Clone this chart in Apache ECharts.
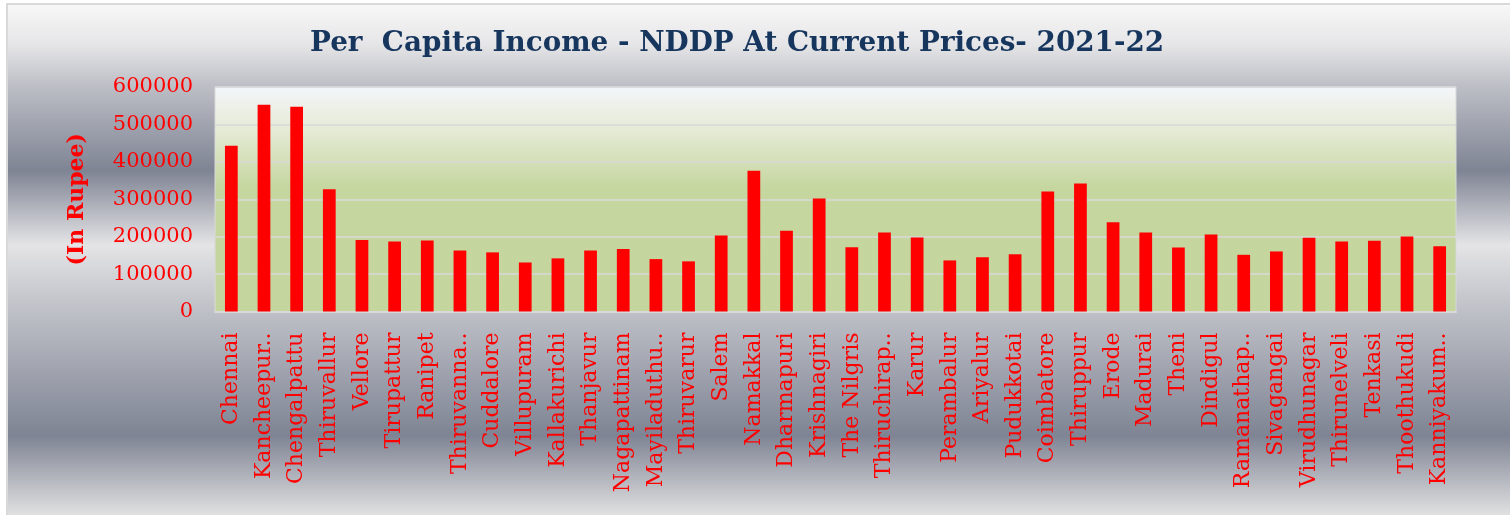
<!DOCTYPE html>
<html>
<head>
<meta charset="utf-8">
<script src="https://cdn.jsdelivr.net/npm/echarts@6/dist/echarts.min.js"></script>
<style>
html,body{margin:0;padding:0;background:#ffffff;}
#main{width:1510px;height:515px;}
</style>
</head>
<body>
<div id="main"></div>
<script>
const titleText = 'Per  Capita Income - NDDP At Current Prices- 2021-22';
const yAxisTitle = '(In Rupee)';
const districts = ['Chennai','Kancheepur..','Chengalpattu','Thiruvallur','Vellore','Tirupattur','Ranipet','Thiruvanna..','Cuddalore','Villupuram','Kallakurichi','Thanjavur','Nagapattinam','Mayiladuthu..','Thiruvarur','Salem','Namakkal','Dharmapuri','Krishnagiri','The Nilgris','Thiruchirap..','Karur','Perambalur','Ariyalur','Pudukkotai','Coimbatore','Thiruppur','Erode','Madurai','Theni','Dindigul','Ramanathap..','Sivagangai','Virudhunagar','Thirunelveli','Tenkasi','Thoothukudi','Kanniyakum..'];
const perCapitaIncome = [443000,552500,547000,327000,191000,187000,190000,163000,158000,131000,142000,163000,167000,140000,134000,203000,376500,215500,302000,172000,211000,198000,136500,145000,153000,320500,342000,238700,211000,171000,206000,151500,160500,197000,187000,189000,200500,174500];
const yTicks = {min:0, max:600000, interval:100000};

const chart = echarts.init(document.getElementById('main'), null, {renderer:'canvas'});
const serif = 'DejaVu Serif';
chart.setOption({
  animation:false,
  graphic:[{
    type:'rect', z:-10, silent:true,
    shape:{x:7,y:4,width:1510,height:513},
    style:{
      fill:new echarts.graphic.LinearGradient(0,0,0,1,[
        {offset:0,color:'#f8f8f8'},
        {offset:0.08,color:'#e6e6e8'},
        {offset:0.16,color:'#bdbfc6'},
        {offset:0.325,color:'#7f8494'},
        {offset:0.47,color:'#e4e4e6'},
        {offset:0.58,color:'#c3c5cb'},
        {offset:0.84,color:'#7f8494'},
        {offset:1,color:'#e4e4e4'}
      ]),
      stroke:'#d9d9d9', lineWidth:2
    }
  }],
  title:{
    text:titleText, left:305, top:25,
    textStyle:{fontFamily:serif,fontWeight:'bold',fontSize:27.8,color:'#17365d'}
  },
  grid:{
    left:215, right:54, top:87, bottom:203.5, containLabel:false,
    show:true, borderColor:'#d9d9d9', borderWidth:1,
    backgroundColor:new echarts.graphic.LinearGradient(0,0,0,1,[
      {offset:0,color:'#f3f6fa'},
      {offset:0.2,color:'#e4eaD4'},
      {offset:0.45,color:'#c5d69f'},
      {offset:1,color:'#c4d59e'}
    ])
  },
  xAxis:{
    type:'category', data:districts,
    axisTick:{show:false},
    axisLine:{show:true,lineStyle:{color:'#d9d9d9',width:2}},
    axisLabel:{interval:0,rotate:90,margin:21,color:'#ff0000',fontFamily:serif,fontSize:22}
  },
  yAxis:{
    type:'value', min:yTicks.min, max:yTicks.max, interval:yTicks.interval,
    name:yAxisTitle, nameLocation:'middle', nameRotate:90, nameGap:127,
    nameTextStyle:{color:'#ff0000',fontFamily:serif,fontWeight:'bold',fontSize:22},
    axisLine:{show:false}, axisTick:{show:false},
    axisLabel:{color:'#ff0000',fontFamily:serif,fontSize:21,margin:22,formatter:function(v){return String(v);}},
    splitLine:{lineStyle:{color:'#d9d9d9',width:1.5}}
  },
  series:[{
    type:'bar', data:perCapitaIncome, barWidth:'39%',
    itemStyle:{color:'#ff0000'}
  }]
});
</script>
</body>
</html>
